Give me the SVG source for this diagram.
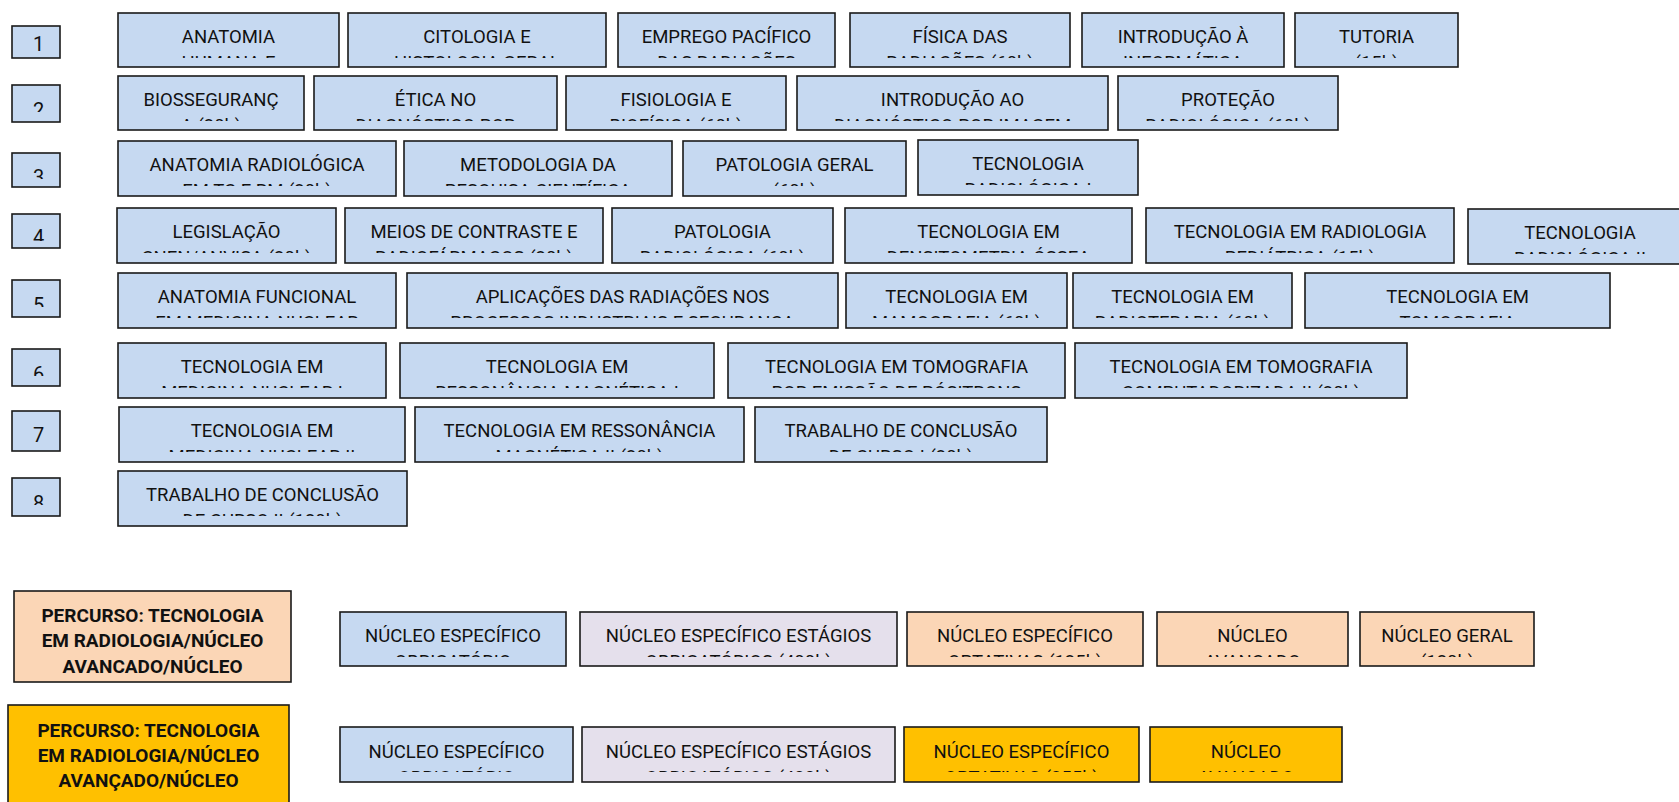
<svg xmlns="http://www.w3.org/2000/svg" width="1679" height="802" viewBox="0 0 1679 802">
<style>
.b{fill:#C6D9F1;stroke:#1a1a1a;stroke-width:1.6}
.p{fill:#FBD6B6;stroke:#1a1a1a;stroke-width:1.6}
.l{fill:#E5E0EC;stroke:#1a1a1a;stroke-width:1.6}
.g{fill:#FFC000;stroke:#1a1a1a;stroke-width:1.6}
text{font-family:Roboto,"Liberation Sans",Arial,sans-serif;font-size:18.5px;fill:#111;text-anchor:middle}
.num{font-size:20px}
.bold{font-weight:bold;font-size:19px}
</style>
<rect width="1679" height="802" fill="#fff"/>
<g id="connectors"></g>

<!-- semester numbers -->
<g id="s1"><rect class="b" x="12" y="26" width="48" height="32"/><svg x="12" y="26" width="48" height="30"><text class="num" x="26.5" y="25">1</text></svg></g>
<g id="s2"><rect class="b" x="12" y="85" width="48" height="37"/><svg x="12" y="85" width="48" height="27"><text class="num" x="26.5" y="32">2</text></svg></g>
<g id="s3"><rect class="b" x="12" y="153" width="48" height="34"/><svg x="12" y="153" width="48" height="26"><text class="num" x="26.5" y="31">3</text></svg></g>
<g id="s4"><rect class="b" x="12" y="214" width="48" height="34"/><svg x="12" y="214" width="48" height="27"><text class="num" x="26.5" y="30">4</text></svg></g>
<g id="s5"><rect class="b" x="12" y="280" width="48" height="37"/><svg x="12" y="280" width="48" height="27"><text class="num" x="26.5" y="32">5</text></svg></g>
<g id="s6"><rect class="b" x="12" y="349" width="48" height="37"/><svg x="12" y="349" width="48" height="27"><text class="num" x="26.5" y="32">6</text></svg></g>
<g id="s7"><rect class="b" x="12" y="411" width="48" height="40"/><svg x="12" y="411" width="48" height="38"><text class="num" x="26.5" y="31">7</text></svg></g>
<g id="s8"><rect class="b" x="12" y="478" width="48" height="38"/><svg x="12" y="478" width="48" height="27"><text class="num" x="26.5" y="32">8</text></svg></g>

<!-- row 1 -->
<g id="anatomia"><rect class="b" x="118" y="13" width="221" height="54"/><svg x="118" y="13" width="221" height="45"><text x="50%" y="30">ANATOMIA</text><text x="50%" y="56">HUMANA E</text></svg></g>
<g id="citologia"><rect class="b" x="348" y="13" width="258" height="54"/><svg x="348" y="13" width="258" height="45"><text x="50%" y="30">CITOLOGIA E</text><text x="50%" y="56">HISTOLOGIA GERAL</text></svg></g>
<g id="emprego"><rect class="b" x="618" y="13" width="217" height="54"/><svg x="618" y="13" width="217" height="45"><text x="50%" y="30">EMPREGO PACÍFICO</text><text x="50%" y="56">DAS RADIAÇÕES</text></svg></g>
<g id="fisica"><rect class="b" x="850" y="13" width="220" height="54"/><svg x="850" y="13" width="220" height="45"><text x="50%" y="30">FÍSICA DAS</text><text x="50%" y="56">RADIAÇÕES (60h)</text></svg></g>
<g id="intro-info"><rect class="b" x="1082" y="13" width="202" height="54"/><svg x="1082" y="13" width="202" height="45"><text x="50%" y="30">INTRODUÇÃO À</text><text x="50%" y="56">INFORMÁTICA</text></svg></g>
<g id="tutoria"><rect class="b" x="1295" y="13" width="163" height="54"/><svg x="1295" y="13" width="163" height="45"><text x="50%" y="30">TUTORIA</text><text x="50%" y="56">(15h)</text></svg></g>

<!-- row 2 -->
<g id="bioss"><rect class="b" x="118" y="76" width="186" height="54"/><svg x="118" y="76" width="186" height="45"><text x="50%" y="30">BIOSSEGURANÇ</text><text x="50%" y="56">A (30h)</text></svg></g>
<g id="etica"><rect class="b" x="314" y="76" width="243" height="54"/><svg x="314" y="76" width="243" height="45"><text x="50%" y="30">ÉTICA NO</text><text x="50%" y="56">DIAGNÓSTICO POR</text></svg></g>
<g id="fisiologia"><rect class="b" x="566" y="76" width="220" height="54"/><svg x="566" y="76" width="220" height="45"><text x="50%" y="30">FISIOLOGIA E</text><text x="50%" y="56">BIOFÍSICA (60h)</text></svg></g>
<g id="intro-diag"><rect class="b" x="797" y="76" width="311" height="54"/><svg x="797" y="76" width="311" height="45"><text x="50%" y="30">INTRODUÇÃO AO</text><text x="50%" y="56">DIAGNÓSTICO POR IMAGEM</text></svg></g>
<g id="protecao"><rect class="b" x="1118" y="76" width="220" height="54"/><svg x="1118" y="76" width="220" height="45"><text x="50%" y="30">PROTEÇÃO</text><text x="50%" y="56">RADIOLÓGICA (60h)</text></svg></g>

<!-- row 3 -->
<g id="anat-rad"><rect class="b" x="118" y="141" width="278" height="55"/><svg x="118" y="141" width="278" height="45"><text x="50%" y="30">ANATOMIA RADIOLÓGICA</text><text x="50%" y="56">EM TC E RM (30h)</text></svg></g>
<g id="metodologia"><rect class="b" x="404" y="141" width="268" height="55"/><svg x="404" y="141" width="268" height="45"><text x="50%" y="30">METODOLOGIA DA</text><text x="50%" y="56">PESQUISA CIENTÍFICA</text></svg></g>
<g id="pat-geral"><rect class="b" x="683" y="141" width="223" height="55"/><svg x="683" y="141" width="223" height="45"><text x="50%" y="30">PATOLOGIA GERAL</text><text x="50%" y="56">(60h)</text></svg></g>
<g id="tec-rad-1"><rect class="b" x="918" y="140" width="220" height="55"/><svg x="918" y="140" width="220" height="45"><text x="50%" y="30">TECNOLOGIA</text><text x="50%" y="56">RADIOLÓGICA I</text></svg></g>

<!-- row 4 -->
<g id="legislacao"><rect class="b" x="117" y="208" width="219" height="55"/><svg x="117" y="208" width="219" height="45"><text x="50%" y="30">LEGISLAÇÃO</text><text x="50%" y="56">CNEN/ANVISA (30h)</text></svg></g>
<g id="meios"><rect class="b" x="345" y="208" width="258" height="55"/><svg x="345" y="208" width="258" height="45"><text x="50%" y="30">MEIOS DE CONTRASTE E</text><text x="50%" y="56">RADIOFÁRMACOS (30h)</text></svg></g>
<g id="pat-rad"><rect class="b" x="612" y="208" width="221" height="55"/><svg x="612" y="208" width="221" height="45"><text x="50%" y="30">PATOLOGIA</text><text x="50%" y="56">RADIOLÓGICA (60h)</text></svg></g>
<g id="densito"><rect class="b" x="845" y="208" width="287" height="55"/><svg x="845" y="208" width="287" height="45"><text x="50%" y="30">TECNOLOGIA EM</text><text x="50%" y="56">DENSITOMETRIA ÓSSEA</text></svg></g>
<g id="pediatrica"><rect class="b" x="1146" y="208" width="308" height="55"/><svg x="1146" y="208" width="308" height="45"><text x="50%" y="30">TECNOLOGIA EM RADIOLOGIA</text><text x="50%" y="56">PEDIÁTRICA (15h)</text></svg></g>
<g id="tec-rad-2"><rect class="b" x="1468" y="209" width="224" height="55"/><svg x="1468" y="209" width="224" height="45"><text x="50%" y="30">TECNOLOGIA</text><text x="50%" y="56">RADIOLÓGICA II</text></svg></g>

<!-- row 5 -->
<g id="anat-func"><rect class="b" x="118" y="273" width="278" height="55"/><svg x="118" y="273" width="278" height="45"><text x="50%" y="30">ANATOMIA FUNCIONAL</text><text x="50%" y="56">EM MEDICINA NUCLEAR</text></svg></g>
<g id="aplicacoes"><rect class="b" x="407" y="273" width="431" height="55"/><svg x="407" y="273" width="431" height="45"><text x="50%" y="30">APLICAÇÕES DAS RADIAÇÕES NOS</text><text x="50%" y="56">PROCESSOS INDUSTRIAIS E SEGURANÇA</text></svg></g>
<g id="mamografia"><rect class="b" x="846" y="273" width="221" height="55"/><svg x="846" y="273" width="221" height="45"><text x="50%" y="30">TECNOLOGIA EM</text><text x="50%" y="56">MAMOGRAFIA (60h)</text></svg></g>
<g id="radioterapia"><rect class="b" x="1073" y="273" width="219" height="55"/><svg x="1073" y="273" width="219" height="45"><text x="50%" y="30">TECNOLOGIA EM</text><text x="50%" y="56">RADIOTERAPIA (60h)</text></svg></g>
<g id="tomografia"><rect class="b" x="1305" y="273" width="305" height="55"/><svg x="1305" y="273" width="305" height="45"><text x="50%" y="30">TECNOLOGIA EM</text><text x="50%" y="56">TOMOGRAFIA</text></svg></g>

<!-- row 6 -->
<g id="mednuc-1"><rect class="b" x="118" y="343" width="268" height="55"/><svg x="118" y="343" width="268" height="45"><text x="50%" y="30">TECNOLOGIA EM</text><text x="50%" y="56">MEDICINA NUCLEAR I</text></svg></g>
<g id="resson-1"><rect class="b" x="400" y="343" width="314" height="55"/><svg x="400" y="343" width="314" height="45"><text x="50%" y="30">TECNOLOGIA EM</text><text x="50%" y="56">RESSONÂNCIA MAGNÉTICA I</text></svg></g>
<g id="pet"><rect class="b" x="728" y="343" width="337" height="55"/><svg x="728" y="343" width="337" height="45"><text x="50%" y="30">TECNOLOGIA EM TOMOGRAFIA</text><text x="50%" y="56">POR EMISSÃO DE PÓSITRONS</text></svg></g>
<g id="tc-2"><rect class="b" x="1075" y="343" width="332" height="55"/><svg x="1075" y="343" width="332" height="45"><text x="50%" y="30">TECNOLOGIA EM TOMOGRAFIA</text><text x="50%" y="56">COMPUTADORIZADA II (30h)</text></svg></g>

<!-- row 7 -->
<g id="mednuc-2"><rect class="b" x="119" y="407" width="286" height="55"/><svg x="119" y="407" width="286" height="45"><text x="50%" y="30">TECNOLOGIA EM</text><text x="50%" y="56">MEDICINA NUCLEAR II</text></svg></g>
<g id="resson-2"><rect class="b" x="415" y="407" width="329" height="55"/><svg x="415" y="407" width="329" height="45"><text x="50%" y="30">TECNOLOGIA EM RESSONÂNCIA</text><text x="50%" y="56">MAGNÉTICA II (30h)</text></svg></g>
<g id="tcc-1"><rect class="b" x="755" y="407" width="292" height="55"/><svg x="755" y="407" width="292" height="45"><text x="50%" y="30">TRABALHO DE CONCLUSÃO</text><text x="50%" y="56">DE CURSO I (30h)</text></svg></g>

<!-- row 8 -->
<g id="tcc-2"><rect class="b" x="118" y="471" width="289" height="55"/><svg x="118" y="471" width="289" height="45"><text x="50%" y="30">TRABALHO DE CONCLUSÃO</text><text x="50%" y="56">DE CURSO II (120h)</text></svg></g>

<!-- legend: percurso 1 -->
<g id="percurso-1"><rect class="p" x="14" y="591" width="277" height="91"/><svg x="14" y="591" width="277" height="88"><text class="bold" x="50%" y="31">PERCURSO: TECNOLOGIA</text><text class="bold" x="50%" y="56">EM RADIOLOGIA/NÚCLEO</text><text class="bold" x="50%" y="82">AVANCADO/NÚCLEO</text></svg></g>
<g id="a-neo"><rect class="b" x="340" y="612" width="226" height="54"/><svg x="340" y="612" width="226" height="45"><text x="50%" y="30">NÚCLEO ESPECÍFICO</text><text x="50%" y="56">OBRIGATÓRIO</text></svg></g>
<g id="a-nee"><rect class="l" x="580" y="612" width="317" height="54"/><svg x="580" y="612" width="317" height="45"><text x="50%" y="30">NÚCLEO ESPECÍFICO ESTÁGIOS</text><text x="50%" y="56">OBRIGATÓRIOS (400h)</text></svg></g>
<g id="a-neopt"><rect class="p" x="907" y="612" width="236" height="54"/><svg x="907" y="612" width="236" height="45"><text x="50%" y="30">NÚCLEO ESPECÍFICO</text><text x="50%" y="56">OPTATIVAS (135h)</text></svg></g>
<g id="a-nav"><rect class="p" x="1157" y="612" width="191" height="54"/><svg x="1157" y="612" width="191" height="45"><text x="50%" y="30">NÚCLEO</text><text x="50%" y="56">AVANÇADO</text></svg></g>
<g id="a-ng"><rect class="p" x="1360" y="612" width="174" height="54"/><svg x="1360" y="612" width="174" height="45"><text x="50%" y="30">NÚCLEO GERAL</text><text x="50%" y="56">(120h)</text></svg></g>

<!-- legend: percurso 2 -->
<g id="percurso-2"><rect class="g" x="8" y="705" width="281" height="110"/><svg x="8" y="705" width="281" height="97"><text class="bold" x="50%" y="32">PERCURSO: TECNOLOGIA</text><text class="bold" x="50%" y="57">EM RADIOLOGIA/NÚCLEO</text><text class="bold" x="50%" y="82">AVANÇADO/NÚCLEO</text></svg></g>
<g id="b-neo"><rect class="b" x="340" y="727" width="233" height="55"/><svg x="340" y="727" width="233" height="45"><text x="50%" y="31">NÚCLEO ESPECÍFICO</text><text x="50%" y="57">OBRIGATÓRIO</text></svg></g>
<g id="b-nee"><rect class="l" x="582" y="727" width="313" height="55"/><svg x="582" y="727" width="313" height="45"><text x="50%" y="31">NÚCLEO ESPECÍFICO ESTÁGIOS</text><text x="50%" y="57">OBRIGATÓRIOS (400h)</text></svg></g>
<g id="b-neopt"><rect class="g" x="904" y="727" width="235" height="55"/><svg x="904" y="727" width="235" height="45"><text x="50%" y="31">NÚCLEO ESPECÍFICO</text><text x="50%" y="57">OPTATIVAS (255h)</text></svg></g>
<g id="b-nav"><rect class="g" x="1150" y="727" width="192" height="55"/><svg x="1150" y="727" width="192" height="45"><text x="50%" y="31">NÚCLEO</text><text x="50%" y="57">AVANÇADO</text></svg></g>
</svg>
